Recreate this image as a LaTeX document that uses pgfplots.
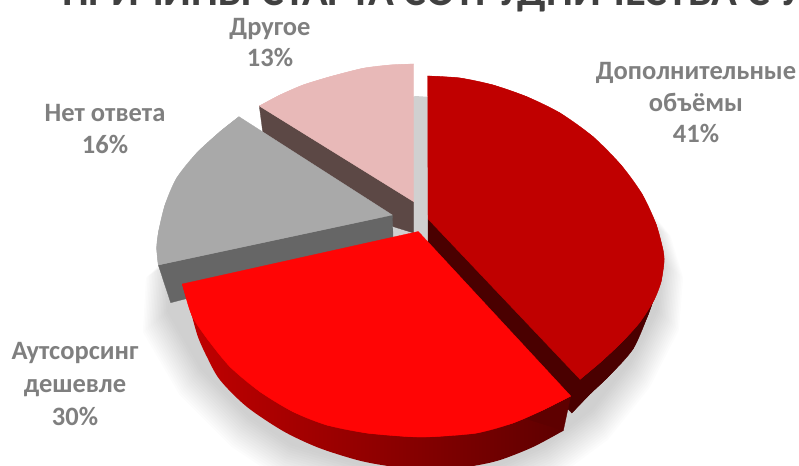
\documentclass[border=0pt]{standalone}
\usepackage{pgfplots}
\usepackage{pgfplotstable}
\pgfplotsset{compat=1.18}
\usepackage{fontspec}
\setmainfont{Carlito}
\definecolor{lab}{HTML}{7F7F7F}
\definecolor{ttl}{HTML}{404040}
\definecolor{sA}{HTML}{C00000}
\definecolor{sArim}{HTML}{4A0000}
\definecolor{sB}{HTML}{FF0505}
\definecolor{sBrim}{HTML}{5E0000}
\definecolor{sC}{HTML}{A9A9A9}
\definecolor{sCrim}{HTML}{666666}
\definecolor{sD}{HTML}{E8B9B8}
\definecolor{sDrim}{HTML}{5C4845}

% soft shadow outline under the exploded pie
\pgfplotstableread{
x y
415 96
480 100
560 140
620 180
660 230
672 270
668 320
640 375
600 425
550 462
500 485
380 490
285 462
240 432
190 382
155 322
158 270
200 230
300 150
}\shadowtable

% one filled face: smooth outer arc plus the polygon through the same points and the apex
\newcommand{\face}[3]{%
  \addplot[smooth,fill=#1,draw=#1,line width=.3pt] coordinates {#2};
  \addplot[fill=#1,draw=#1,line width=.3pt] coordinates {#2 #3} -- cycle;}
\newcommand{\faceflat}[2]{\addplot[fill=#1,draw=#1,line width=.3pt] coordinates {#2} -- cycle;}

\begin{document}
\begin{tikzpicture}
\begin{axis}[
  at={(0,0)},anchor=south west,
  scale only axis,width=799pt,height=465pt,
  xmin=0,xmax=799,ymin=0,ymax=465,y dir=reverse,
  hide axis,
]
% title
\node[anchor=base west,font=\bfseries\fontsize{42.5}{42.5}\selectfont,text=ttl,inner sep=0pt]
  at (axis cs:62,5.5) {ПРИЧИНЫ СТАРТА СОТРУДНИЧЕСТВА С У};

% shadow built up in thin layers
\pgfplotsinvokeforeach{0.955,0.961,0.967,0.973,0.979,0.985,0.991,0.997,1.003,1.009,1.015,1.021,1.027,1.033,1.039,1.045}{
  \addplot[fill=black,fill opacity=0.013,draw=none]
    table[x expr={425+(\thisrow{x}-425)*#1},y expr={96+(\thisrow{y}-96)*#1}] {\shadowtable} -- cycle;
}

% Другое, 13%
\faceflat{sDrim}{(259.3,106)(413.7,201.7)(413.7,233)(393.5,226.7)(262.7,131.7)}
\face{sD}{(259.3,106)(280,95)(303,85)(330,76.7)(363,68.3)(390,65)(413.7,64)}{(413.7,201.7)}

% Нет ответа, 16%
\faceflat{sCrim}{(158.3,265)(392.3,215)(393.3,245)(170.7,302.7)}
\face{sC}{(239,116.7)(220,131.7)(196.7,153)(176.7,178)(165,205)(158.5,232)(156.7,248)(158.3,265)}{(392.3,215)}

% Дополнительные объёмы, 41%
\face{sArim}{(654,298)(648,315)(633,349)(609,376)(590,394)(571.7,413)}{(428,260)(428,219)}
\face{sA}{(427.7,76)(460,78)(493,85)(526.7,96.7)(560,113)(593,136.7)(621,165)(642,194)(656,224)(663,250)(664,262)(661,282)(654,300)(640,322)(622,342)(601,361.7)(580,379.3)}{(428,219)}

% Аутсорсинг дешевле, 30%
\faceflat{sBrim}{(570.7,396)(563.3,430.7)(520,440)(400,300)}
\addplot[smooth,draw=none,left color=sA,middle color=sArim,right color=sBrim]
  coordinates {(191.7,315)(198,337)(207,357)(220,380)(246.7,406.7)(283,431)(316.7,447)(350,458)(373,463.5)(410,469)(440,470)(473,466)(500,460)(533,447)(563.3,430.7)};
\face{sB}{(182.3,284)(191.7,315)(206.7,338)(230,366.7)(260,391.7)(293,411.7)(326.7,425)(366.7,433)(410,436.7)(433,436.7)(476.7,433)(513,423)(543,410)(570.7,396)}{(418.3,231.5)}

% data labels
\node[font=\bfseries\fontsize{26.5}{31.5}\selectfont,text=lab,align=center] at (axis cs:270,42.5) {Другое\\13\%};
\node[font=\bfseries\fontsize{26.5}{32.5}\selectfont,text=lab,align=center] at (axis cs:105,129) {Нет ответа\\16\%};
\node[font=\bfseries\fontsize{26.5}{31.5}\selectfont,text=lab,align=center] at (axis cs:696,103) {Дополнительные\\объёмы\\41\%};
\node[font=\bfseries\fontsize{26.5}{33}\selectfont,text=lab,align=center] at (axis cs:75,384) {Аутсорсинг\\дешевле\\30\%};
\end{axis}
\pgfresetboundingbox
\path[use as bounding box] (0,0) rectangle (799pt,465pt);
\end{tikzpicture}
\end{document}
